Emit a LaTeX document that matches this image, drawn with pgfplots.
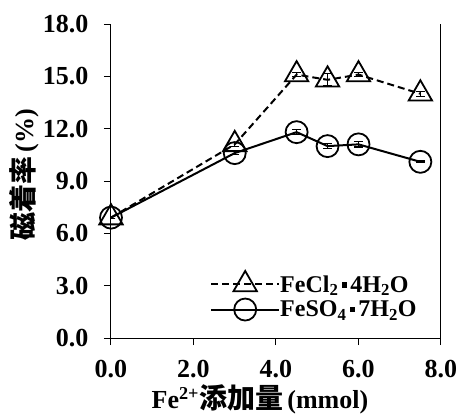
\documentclass[border=0pt]{standalone}
\usepackage{fontspec}
\usepackage{pgfplots}
\pgfplotsset{compat=1.18}
\setmainfont{Liberation Serif}
\newfontfamily\cjk{Noto Sans CJK JP}
\newcommand{\sq}{\hspace{0.14em}\raisebox{0.18em}{\rule{0.22em}{0.22em}}\hspace{0.14em}}
\newcommand{\cj}[1]{{\cjk\bfseries\fontsize{28}{28}\selectfont #1}}
\begin{document}
\begin{tikzpicture}
\begin{axis}[
 scale only axis, width=330pt, height=314pt,
 xmin=0, xmax=8, ymin=0, ymax=18,
 xtick={0,2,...,8}, ytick={0,3,...,18},
 axis lines=left, axis line style={-, line width=1pt},
 tick align=outside, major tick length=7pt, tick style={line width=1pt, black},
 /pgf/number format/.cd, fixed, fixed zerofill, precision=1, assume math mode=true,
 /pgfplots/.cd,
 ticklabel style={font=\fontsize{26}{26}\selectfont\bfseries},
 xticklabel style={yshift=-12pt},
 yticklabel style={xshift=-12pt},
 xlabel={\bfseries Fe\textsuperscript{2+}\cj{添加量}\,(mmol)},
 ylabel={\cj{磁着率}\,\bfseries(\%)},
 label style={font=\fontsize{26}{26}\selectfont},
 xlabel style={yshift=0pt, xshift=-16pt},
 ylabel style={yshift=-3pt, xshift=6pt},
 legend style={draw=none, fill=none, at={(0.3,0.055)}, anchor=south west, inner sep=0pt,
   font=\fontsize{24}{24}\selectfont\bfseries, row sep=5pt,
   nodes={inner sep=0pt}},
 legend cell align=left,
 legend image code/.code={\draw[mark repeat=2,mark phase=2] plot coordinates {(0pt,0pt) (34pt,0pt) (68pt,0pt)};},
]
\addplot[black, dash pattern=on 7pt off 4pt, line width=2pt, mark=triangle, mark size=13.5pt,
  mark options={solid, line width=1.8pt},
  error bars/.cd, y dir=both, y explicit,
  error bar style={solid, line width=1.2pt},
  error mark options={rotate=90, mark size=4.5pt, line width=1.2pt, solid}]
 table[x=x, y=y, y error=e] {
 x y e
 0 6.9 0.05
 3 11.1 0.1
 4.5 15.1 0.1
 5.25 14.8 0.35
 6 15.1 0.1
 7.5 14.0 0.15
 };
\addlegendentry{FeCl\textsubscript{2}\sq4H\textsubscript{2}O}
\addplot[black, solid, line width=2pt, mark=o, mark size=11pt,
  mark options={solid, line width=1.8pt},
  error bars/.cd, y dir=both, y explicit,
  error bar style={solid, line width=1.2pt},
  error mark options={rotate=90, mark size=4.5pt, line width=1.2pt, solid}]
 table[x=x, y=y, y error=e] {
 x y e
 0 6.9 0.05
 3 10.6 0.1
 4.5 11.8 0.15
 5.25 11.0 0.15
 6 11.1 0.15
 7.5 10.1 0.05
 };
\addlegendentry{FeSO\textsubscript{4}\sq7H\textsubscript{2}O}
\draw[line width=1pt] (rel axis cs:1,0) -- (rel axis cs:1,1);
\coordinate (o) at (rel axis cs:0,0);
\end{axis}
\pgfresetboundingbox
\path[use as bounding box] (o) ++(-111pt,-80pt) rectangle ++(460pt,418pt);
\end{tikzpicture}
\end{document}
